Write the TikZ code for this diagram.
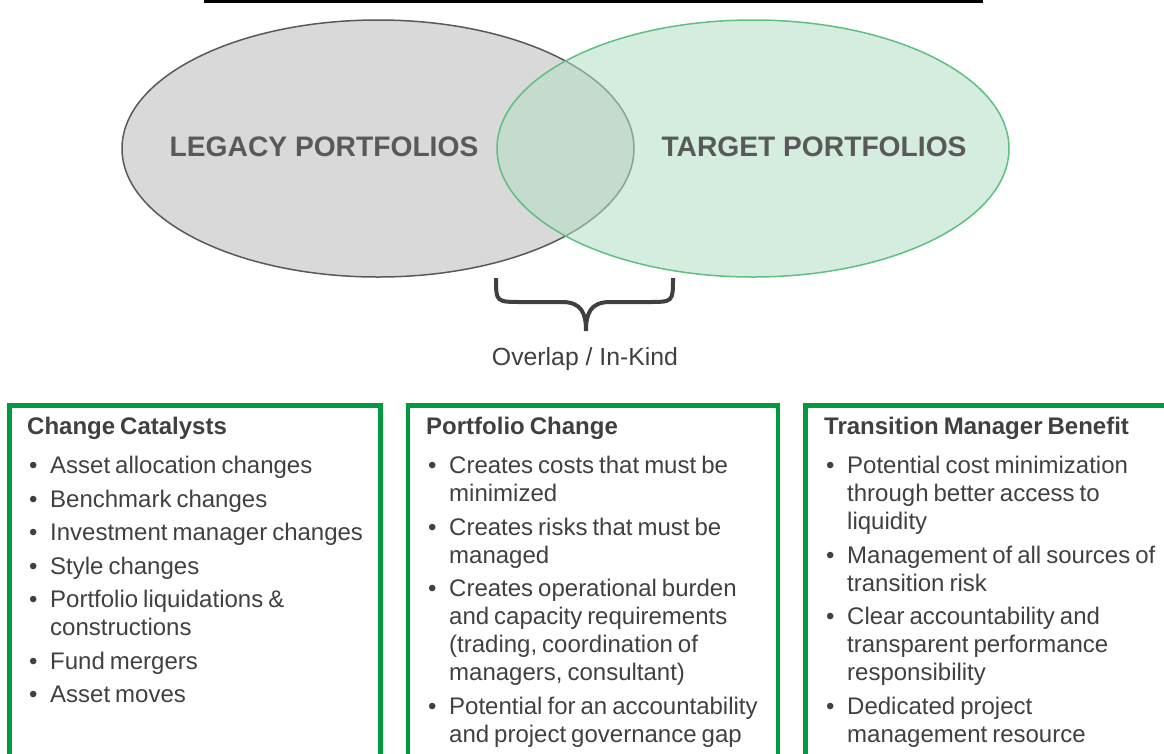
\documentclass[tikz,border=0pt]{standalone}
\usepackage{fontspec}
\setmainfont{Liberation Sans}
\usetikzlibrary{positioning, shapes.geometric}

\definecolor{legacyfill}{HTML}{D9D9D9}
\definecolor{legacydraw}{HTML}{595959}
\definecolor{targetfill}{RGB}{179,222,197}
\definecolor{targetdraw}{RGB}{95,190,130}
\definecolor{boxgreen}{RGB}{0,154,62}
\definecolor{labelgray}{HTML}{595959}
\definecolor{bodygray}{HTML}{404040}

\newcommand{\listsetup}{\fontsize{24}{28}\selectfont\spaceskip=5pt plus 1pt\setlength{\parskip}{5.5pt}\color{bodygray}}
\newcommand{\listhead}[1]{\rule{0pt}{20pt}\textbf{#1}\par\vspace{6pt}}
\newcommand{\bitem}{\par\noindent\hangindent=23pt\hangafter=1\makebox[23pt][l]{\hspace{2pt}\textbullet}}

\begin{document}
\begin{tikzpicture}[x=1pt, y=-1pt]
\tikzset{legacy/.style={ellipse, draw=legacydraw, fill=legacyfill, line width=1.5pt, inner sep=0, minimum width=512pt, minimum height=257pt},
		target/.style={ellipse, draw=targetdraw, fill=targetfill, fill opacity=0.55, line width=1.5pt, inner sep=0, minimum width=512pt, minimum height=257pt},
		bigname/.style={font=\fontsize{28.2}{34}\selectfont\bfseries, text=labelgray, inner sep=0},
		panel/.style={draw=boxgreen, line width=4.5pt},
		listing/.style={anchor=north west, inner sep=0, text width=360pt, align=left}}
\useasboundingbox (0,0) rectangle (1164,753);
\clip (0,0) rectangle (1164,753);

% rule on top
\draw[line width=2.5pt] (204,1.5) -- (983,1.5);

% the two sets
\node[legacy] (LP) at (378,148.5) {};
\node[target] (TP) at (753,148.5) {};
\node[bigname] (LPtext) at (324,147) {LEGACY PORTFOLIOS};
\node[bigname] (TPtext) at (814,147) {TARGET PORTFOLIOS};

% brace under the overlap
\draw[bodygray, line width=4pt, line join=miter]
	(496,278) .. controls (496,302) .. (522,302) -- (562,302)
	.. controls (582,302) and (586,314) .. (586,331)
	.. controls (586,314) and (590,302) .. (610,302) -- (648,302)
	.. controls (673,302) .. (673,278);
\node[font=\fontsize{24.8}{30}\selectfont, text=bodygray, inner sep=0] (OV) at (585,359) {Overlap / In-Kind};

% three panels
\draw[panel] (9.5,405.5) rectangle (380.5,780);
\draw[panel] (408,405.5) rectangle (778,780);
\draw[panel] (805.5,405.5) rectangle (1180,780);

\node[listing] (CC) at (27,414) {\listsetup\listhead{Change Catalysts}%
	\bitem Asset allocation changes
	\bitem Benchmark changes
	\bitem Investment manager changes
	\bitem Style changes
	\bitem Portfolio liquidations \&\newline constructions
	\bitem Fund mergers
	\bitem Asset moves\par};
\node[listing] (PC) at (426,414) {\listsetup\listhead{Portfolio Change}%
	\bitem Creates costs that must be\newline minimized
	\bitem Creates risks that must be\newline managed
	\bitem Creates operational burden\newline and capacity requirements\newline (trading, coordination of\newline managers, consultant)
	\bitem Potential for an accountability\newline and project governance gap\par};
\node[listing] (TMB) at (824,414) {\listsetup\listhead{Transition Manager Benefit}%
	\bitem Potential cost minimization\newline through better access to\newline liquidity
	\bitem Management of all sources of\newline transition risk
	\bitem Clear accountability and\newline transparent performance\newline responsibility
	\bitem Dedicated project\newline management resource\par};
\end{tikzpicture}
\end{document}
